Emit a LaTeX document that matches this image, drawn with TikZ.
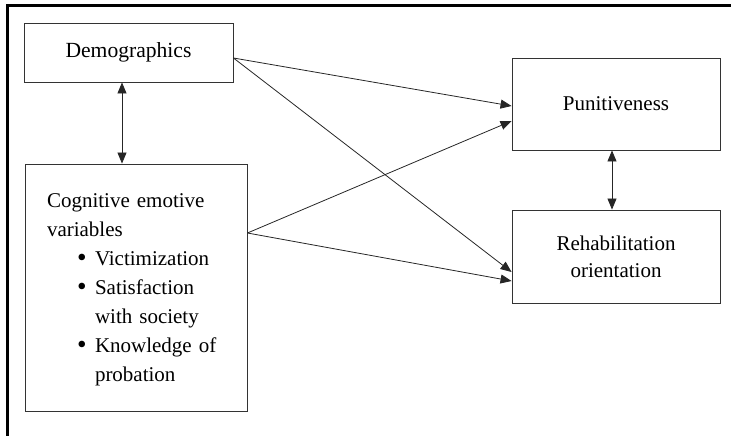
\documentclass[tikz,border=0pt]{standalone}
\usepackage{fontspec}
\usepackage{graphicx}
\setmainfont{Liberation Serif}
\usetikzlibrary{positioning, arrows.meta, calc}

\newcommand{\itembul}{\makebox[18pt][l]{\raisebox{-1pt}{\scalebox{1.3}{\textbullet}}}}

\begin{document}
\begin{tikzpicture}[
    x=1pt, y=-1pt,
    every node/.style={font=\fontsize{21}{28}\selectfont},
    arrow/.style={-{Triangle[length=11pt,width=9pt]}, line width=0.8pt, draw=black!85},
    twoway/.style={{Triangle[length=11pt,width=9pt]}-{Triangle[length=11pt,width=9pt]}, line width=0.8pt, draw=black!85},
    factor/.style={
        rectangle,
        draw=black!80,
        line width=0.9pt,
        align=center,
        inner sep=0pt
    }
]

\useasboundingbox (0,0) rectangle (731,436);
\draw[line width=2.6pt] (7.5,436) -- (7.5,5.5) -- (731,5.5);

\node[factor, minimum width=209, minimum height=59,
      font=\fontsize{21.6}{28}\selectfont] (demo) at (128.5,52.5) {Demographics};
\node[factor, minimum width=222, minimum height=247, text width=200, align=left,
      font=\fontsize{21}{29}\selectfont] (cog) at (136,287.5) {
    \hspace*{11pt}\rule{0pt}{18pt}Cognitive emotive\\
    \hspace*{11pt}variables\\
    \hspace*{41pt}\itembul Victimization\\
    \hspace*{41pt}\itembul Satisfaction\\
    \hspace*{59pt}with society\\
    \hspace*{41pt}\itembul Knowledge of\\
    \hspace*{59pt}probation
};
\node[factor, minimum width=208, minimum height=92] (pun) at (616,104) {Punitiveness};
\node[factor, minimum width=208, minimum height=93,
      font=\fontsize{21}{27}\selectfont] (rehab) at (616,256.5) {
    Rehabilitation\\orientation
};

\coordinate (demoout) at ($(demo.east)+(0,5.5)$);
\coordinate (cogout) at ($(cog.east)+(0,-54.5)$);

\draw[twoway] (demo.south -| 122,0) -- (cog.north -| 122,0);
\draw[twoway] (pun.south -| 612,0) -- (rehab.north -| 612,0);

\draw[arrow] (demoout) -- ($(pun.west)+(0,2)$);
\draw[arrow] (demoout) -- ($(rehab.west)+(0,15.5)$);
\draw[arrow] (cogout) -- ($(pun.west)+(0,17)$);
\draw[arrow] (cogout) -- ($(rehab.west)+(0,24.5)$);

\end{tikzpicture}
\end{document}
